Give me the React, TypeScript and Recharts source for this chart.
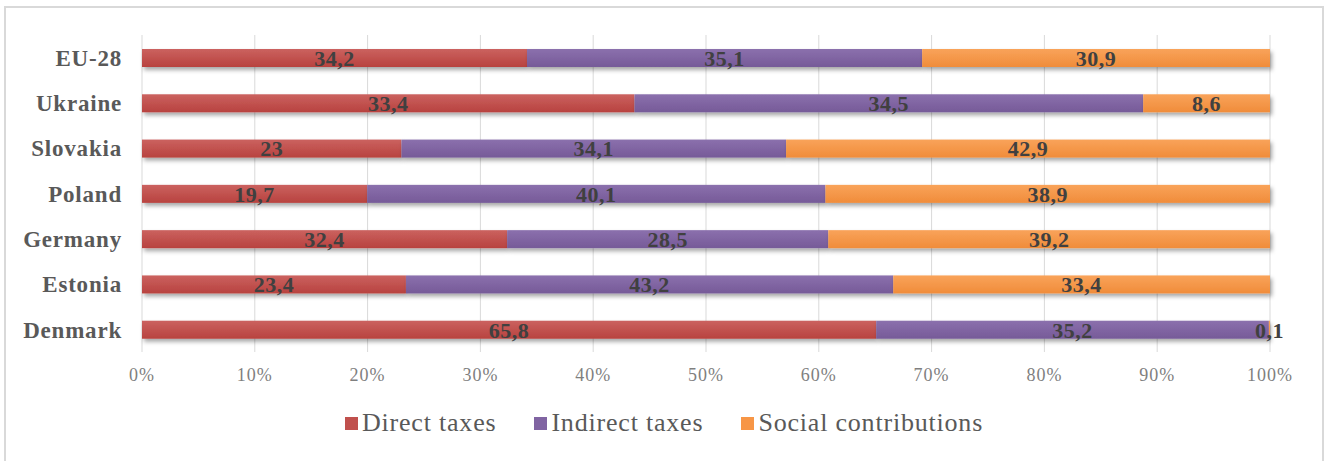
import { BarChart, Bar, XAxis, YAxis, CartesianGrid, LabelList } from 'recharts';

const countries = ['EU-28', 'Ukraine', 'Slovakia', 'Poland', 'Germany', 'Estonia', 'Denmark'];
const directTaxes = [34.2, 33.4, 23, 19.7, 32.4, 23.4, 65.8];
const indirectTaxes = [35.1, 34.5, 34.1, 40.1, 28.5, 43.2, 35.2];
const socialContributions = [30.9, 8.6, 42.9, 38.9, 39.2, 33.4, 0.1];
const percentTicks = [0, 0.1, 0.2, 0.3, 0.4, 0.5, 0.6, 0.7, 0.8, 0.9, 1];

const series = [
  { key: 'direct', name: 'Direct taxes', color: '#c0504d', top: '#cb625f', bottom: '#b8423f' },
  { key: 'indirect', name: 'Indirect taxes', color: '#8064a2', top: '#8b70ad', bottom: '#765a98' },
  { key: 'social', name: 'Social contributions', color: '#f79646', top: '#f9a35a', bottom: '#f08c3a' },
];

const data = countries.map((name, i) => ({
  name,
  direct: directTaxes[i],
  indirect: indirectTaxes[i],
  social: socialContributions[i],
}));

const FONT = '"Liberation Serif", "Times New Roman", serif';

const comma = (v: any) => String(v).replace('.', ',');

function ShadowRect(props: any) {
  const { x, y, width, height, fill } = props;
  if (!width || width <= 0) return null;
  return <rect x={x} y={y} width={width} height={height} fill={fill} filter="url(#barShadow)" />;
}

export default function App() {
  return (
    <div style={{ position: 'absolute', left: 0, top: 0, width: 1328, height: 461, background: '#fff', overflow: 'hidden', fontFamily: FONT }}>
      <div style={{ position: 'absolute', left: 4, top: 6, width: 1316, height: 470, border: '2px solid #d9d9d9' }} />
      <BarChart
        width={1328}
        height={461}
        data={data}
        layout="vertical"
        stackOffset="expand"
        barSize={18}
        margin={{ top: 35, right: 58, bottom: 79, left: 0 }}
        style={{ position: 'absolute', left: 0, top: 0 }}
      >
        <defs>
          <filter id="barShadow" x="-5%" y="-50%" width="110%" height="250%">
            <feDropShadow dx="2" dy="3" stdDeviation="2" floodColor="#000" floodOpacity="0.35" />
          </filter>
          {series.map((s) => (
            <linearGradient key={s.key} id={`grad-${s.key}`} x1="0" y1="0" x2="0" y2="1">
              <stop offset="0%" stopColor={s.top} />
              <stop offset="100%" stopColor={s.bottom} />
            </linearGradient>
          ))}
        </defs>
        <CartesianGrid horizontal={false} stroke="#d9d9d9" />
        <XAxis
          type="number"
          domain={[0, 1]}
          ticks={percentTicks}
          tickFormatter={(v: number) => `${Math.round(v * 100)}%`}
          axisLine={false}
          tickLine={false}
          tickMargin={10}
          height={30}
          tick={{ fill: '#7f7f7f', fontSize: 18, fontFamily: FONT, letterSpacing: 1 }}
        />
        <YAxis
          type="category"
          dataKey="name"
          width={142}
          axisLine={false}
          tickLine={false}
          tickMargin={14}
          tick={{ fill: '#595959', fontSize: 23, fontWeight: 'bold', fontFamily: FONT, letterSpacing: 0.8 }}
        />
        {series.map((s) => (
          <Bar
            key={s.key}
            dataKey={s.key}
            name={s.name}
            stackId="a"
            fill={`url(#grad-${s.key})`}
            shape={ShadowRect}
            isAnimationActive={false}
          >
            <LabelList
              dataKey={s.key}
              position="center"
              formatter={comma}
              fill="#404040"
              fontSize={22}
              fontWeight="bold"
              fontFamily={FONT}
              letterSpacing={0.5}
            />
          </Bar>
        ))}
      </BarChart>
      <div
        style={{
          position: 'absolute',
          left: 0,
          top: 408,
          width: 1328,
          display: 'flex',
          justifyContent: 'center',
          gap: 38,
          fontSize: 26,
          letterSpacing: 0.8,
          lineHeight: '30px',
          color: '#595959',
        }}
      >
        {series.map((s) => (
          <div key={s.key} style={{ display: 'flex', alignItems: 'center', gap: 4 }}>
            <span style={{ display: 'inline-block', width: 13, height: 13, background: s.color }} />
            <span>{s.name}</span>
          </div>
        ))}
      </div>
    </div>
  );
}
